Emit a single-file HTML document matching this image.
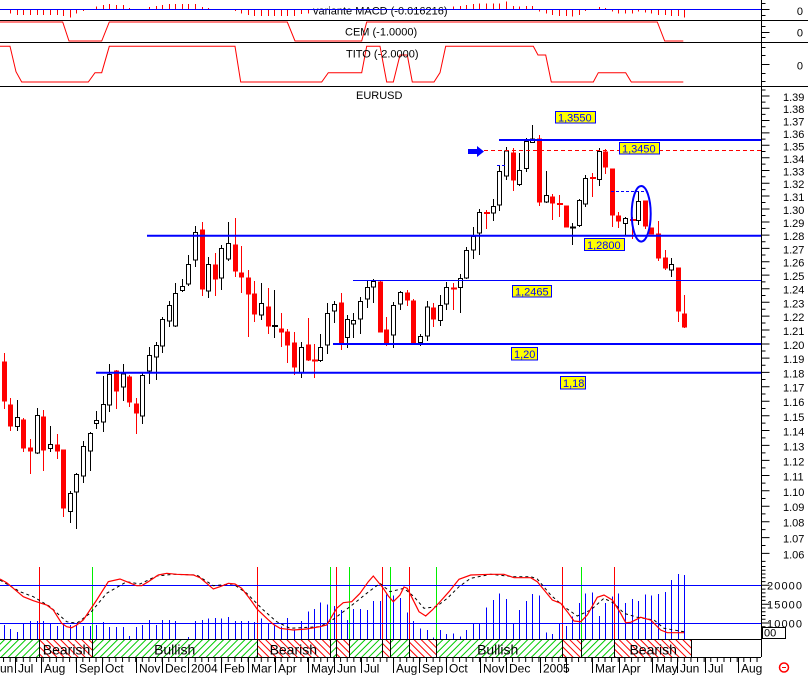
<!DOCTYPE html>
<html><head><meta charset="utf-8"><style>
html,body{margin:0;padding:0;background:#fff;}
svg{display:block;font-family:"Liberation Sans",Arial,sans-serif;}
</style></head><body>
<svg width="808" height="675" viewBox="0 0 808 675" xmlns="http://www.w3.org/2000/svg">
<defs>
<pattern id="hg" width="5" height="10" patternUnits="userSpaceOnUse" patternTransform="rotate(45)"><rect x="0" y="0" width="1" height="10" fill="#00cc00"/></pattern>
<pattern id="hr" width="5" height="10" patternUnits="userSpaceOnUse" patternTransform="rotate(-45)"><rect x="0" y="0" width="1" height="10" fill="#ff0000"/></pattern>
<pattern id="wt" x="3" y="0" width="6.61" height="10" patternUnits="userSpaceOnUse"><rect x="0" y="0" width="1" height="10" fill="#000"/></pattern>
</defs>
<rect width="808" height="675" fill="#fff"/>

<!-- MACD histogram -->
<path stroke="#f00" fill="none" d="M10.5,9.5V13.5M17.5,9.5V15M23.5,9.5V15M30.5,9.5V15M37.5,9.5V15M43.5,9.5V15M50.5,9.5V15M57.5,9.5V15M63.5,9.5V16M70.5,9.5V17.5M76.5,9.5V13.5M83.5,9.5V11M96.5,9.5V6.5M103.5,9.5V5M109.5,9.5V4M116.5,9.5V5M123.5,9.5V5M129.5,9.5V8M149.5,9.5V7M156.5,9.5V6M162.5,9.5V5M169.5,9.5V4M175.5,9.5V4M182.5,9.5V4M188.5,9.5V4M195.5,9.5V4M202.5,9.5V7M208.5,9.5V8M235.5,9.5V11M241.5,9.5V13.5M248.5,9.5V15M254.5,9.5V16M261.5,9.5V16M268.5,9.5V16M274.5,9.5V16M281.5,9.5V16M287.5,9.5V16M294.5,9.5V16M301.5,9.5V14M308.5,9.5V13.5M453.5,9.5V6.5M460.5,9.5V6M466.5,9.5V5M473.5,9.5V4M479.5,9.5V3.5M486.5,9.5V3.5M493.5,9.5V3.5M499.5,9.5V3.5M506.5,9.5V1.5M513.5,9.5V6M519.5,9.5V6.5M526.5,9.5V6M532.5,9.5V6M539.5,9.5V11.5M546.5,9.5V13.5M552.5,9.5V15M559.5,9.5V16M566.5,9.5V16M572.5,9.5V16.5M579.5,9.5V15M585.5,9.5V11M599.5,9.5V7M605.5,9.5V8M612.5,9.5V11.5M618.5,9.5V13.5M625.5,9.5V13.5M632.5,9.5V13.5M638.5,9.5V11.5M645.5,9.5V12.5M651.5,9.5V13.5M658.5,9.5V15M665.5,9.5V15M671.5,9.5V16M678.5,9.5V16M684.5,9.5V17.5"/>
<rect x="312" y="3" width="137" height="13" fill="#fff"/>
<text x="313" y="14.5" font-size="11" fill="#000">variante MACD (-0.016216)</text>
<path d="M0,9.5H761" stroke="#00f"/>

<!-- CEM / TITO -->
<polyline fill="none" stroke="#f00" points="0,22 62.7,22 69,41 101.7,41 109.3,22 287.3,22 295,41 361.7,41 366.7,22 657.3,22 664.7,41 683.3,41"/>
<text x="345" y="35.7" font-size="11" fill="#000">CEM (-1.0000)</text>
<polyline fill="none" stroke="#f00" points="0,46.3 10,46.3 16,71.7 21.7,82 88.3,82 95,72.7 101.7,72.7 109.3,46.3 235,46.3 240.7,82 321.7,82 328.3,72.7 361.7,72.7 366.7,46.3 380,46.3 386.7,82 393.3,82 400,55 407.3,55 412.3,82 434,82 440,72.7 445.7,46.3 533.3,46.3 538,55 545.7,55 551.3,82 593.3,82 598.3,72.7 625.7,72.7 631.3,82 683.3,82"/>
<text x="346" y="57.3" font-size="11" fill="#000">TITO (-2.0000)</text>

<path d="M0,20.5H808M0,42.5H808M0,86.5H808" stroke="#000"/>
<path d="M761.5,0V657" stroke="#000"/>
<path stroke="#000" d="M761.5,3.5H765.5M761.5,9.5H769.5M761.5,15.5H765.5M761.5,26.5H765.5M761.5,32.5H769.5M761.5,37.5H765.5M761.5,47.5H765.5M761.5,55.5H765.5M761.5,64.5H769.5M761.5,73.5H765.5M761.5,81.5H765.5"/>
<text x="803" y="15" font-size="11" text-anchor="end">0</text>
<text x="803" y="36.7" font-size="11" text-anchor="end">0</text>
<text x="803" y="69.7" font-size="11" text-anchor="end">0</text>

<text x="356" y="99" font-size="11" fill="#000">EURUSD</text>

<!-- White candles -->
<g stroke="#000" fill="#fff">
<path d="M17.5,400V431"/><rect x="15.5" y="417.5" width="4" height="9"/>
<path d="M37.5,408V454"/><rect x="35.5" y="415.5" width="4" height="37.5"/>
<path d="M50.5,426V452"/><rect x="48.5" y="444.5" width="4" height="4"/>
<path d="M70.5,491V523"/><rect x="68.5" y="493.5" width="4" height="18"/>
<path d="M76.5,473V529"/><rect x="74.5" y="474.5" width="4" height="17.5"/>
<path d="M83.5,441V483"/><rect x="81.5" y="446.5" width="4" height="29.5"/>
<path d="M90.5,432V471"/><rect x="88.5" y="433.5" width="4" height="17.5"/>
<path d="M96.5,411V429"/><rect x="94.5" y="420.5" width="4" height="3"/>
<path d="M103.5,376V432"/><rect x="101.5" y="404.5" width="4" height="17.5"/>
<path d="M109.5,364V412"/><rect x="107.5" y="374.5" width="4" height="30.5"/>
<path d="M123.5,364V401"/><rect x="121.5" y="374" width="4" height="13"/>
<path d="M142.5,373V424"/><rect x="140.5" y="375.5" width="4" height="40.5"/>
<path d="M149.5,347V384"/><rect x="147.5" y="355.5" width="4" height="15.5"/>
<path d="M156.5,342V380"/><rect x="154.5" y="345.5" width="4" height="11.5"/>
<path d="M162.5,317V353"/><rect x="160.5" y="319.5" width="4" height="26.5"/>
<path d="M169.5,301V327"/><rect x="167.5" y="305.5" width="4" height="15.5"/>
<path d="M175.5,283V327"/><rect x="173.5" y="293.5" width="4" height="32.5"/>
<path d="M182.5,279V292"/><rect x="180.5" y="286.5" width="4" height="4"/>
<path d="M188.5,255V286"/><rect x="186.5" y="264.5" width="4" height="19.5"/>
<path d="M195.5,226V267"/><rect x="193.5" y="232.5" width="4" height="27.5"/>
<path d="M208.5,257V298"/><rect x="206.5" y="264.5" width="4" height="26.5"/>
<path d="M221.5,245V290"/><rect x="219.5" y="248.5" width="4" height="29.5"/>
<path d="M228.5,222V261"/><rect x="226.5" y="243.5" width="4" height="15.5"/>
<path d="M261.5,283V320"/><rect x="259.5" y="303.5" width="4" height="11.5"/>
<path d="M301.5,342V378"/><rect x="299.5" y="347.5" width="4" height="25.5"/>
<path d="M320.5,334V362"/><rect x="318.5" y="347.5" width="4" height="13"/>
<path d="M327.5,303V354"/><rect x="325.5" y="313.5" width="4" height="31.5"/>
<path d="M334.5,301V323"/><rect x="332.5" y="304.5" width="4" height="6.5"/>
<path d="M347.5,315V348"/><rect x="345.5" y="319.5" width="4" height="18"/>
<path d="M353.5,313V338"/><rect x="351.5" y="320.5" width="4" height="3.5"/>
<path d="M360.5,297V334"/><rect x="358.5" y="301.5" width="4" height="17.5"/>
<path d="M367.5,281V308"/><rect x="365.5" y="287.5" width="4" height="11.5"/>
<path d="M373.5,279V303"/><rect x="371.5" y="281.5" width="4" height="5.5"/>
<path d="M393.5,302V348"/><rect x="391.5" y="305.5" width="4" height="29.5"/>
<path d="M400.5,291V310"/><rect x="398.5" y="292.5" width="4" height="11.5"/>
<path d="M420.5,334V346"/><rect x="418.5" y="336.5" width="4" height="6"/>
<path d="M427.5,301V341"/><rect x="425.5" y="307" width="4" height="29"/>
<path d="M440.5,295V326"/><rect x="438.5" y="305.5" width="4" height="15"/>
<path d="M446.5,282V310"/><rect x="444.5" y="287.5" width="4" height="16.5"/>
<path d="M460.5,274V313"/><rect x="458.5" y="278.5" width="4" height="9"/>
<path d="M466.5,247V279"/><rect x="464.5" y="250.5" width="4" height="27.5"/>
<path d="M473.5,227V259"/><rect x="471.5" y="236.5" width="4" height="13.5"/>
<path d="M479.5,209V255"/><rect x="477.5" y="212.5" width="4" height="20.5"/>
<path d="M493.5,199V221"/><rect x="491.5" y="206.5" width="4" height="6.5"/>
<path d="M499.5,165V211"/><rect x="497.5" y="171.5" width="4" height="33.5"/>
<path d="M506.5,147V180"/><rect x="504.5" y="151" width="4" height="25"/>
<path d="M519.5,153V186"/><rect x="517.5" y="170.5" width="4" height="14"/>
<path d="M526.5,138V172"/><rect x="524.5" y="141.5" width="4" height="27"/>
<path d="M532.5,125V143"/><rect x="530.5" y="139" width="4" height="3.5"/>
<path d="M546.5,171V203"/><rect x="544.5" y="195.5" width="4" height="6.5"/>
<path d="M579.5,199V227"/><rect x="577.5" y="200.5" width="4" height="25"/>
<path d="M585.5,175V207"/><rect x="583.5" y="178.5" width="4" height="25.5"/>
<path d="M599.5,148V186"/><rect x="597.5" y="151.5" width="4" height="28"/>
<path d="M625.5,217V235"/><rect x="623.5" y="218.5" width="4" height="5"/>
<path d="M638.5,192V225"/><rect x="636.5" y="201.5" width="4" height="19"/>
<path d="M671.5,258V277"/><rect x="669.5" y="264.5" width="4" height="5.5"/>
</g>
<!-- black crosses -->
<path stroke="#000" fill="none" d="M274.5,290V338M572.5,223V245"/>
<path stroke="#000" stroke-width="2" fill="none" d="M272,326H278M570,227.5H576"/>

<!-- Red candles -->
<g stroke="#f00" fill="#f00">
<path d="M4.5,353V409"/><rect x="2.5" y="362" width="4" height="39"/>
<path d="M10.5,398V431"/><rect x="8.5" y="405" width="4" height="21"/>
<path d="M23.5,418V452"/><rect x="21.5" y="420" width="4" height="28"/>
<path d="M30.5,439V474"/><rect x="28.5" y="448" width="4" height="3"/>
<path d="M43.5,410V471"/><rect x="41.5" y="417" width="4" height="33"/>
<path d="M57.5,434V459"/><rect x="55.5" y="445" width="4" height="6"/>
<path d="M63.5,450V517"/><rect x="61.5" y="450" width="4" height="58"/>
<path d="M116.5,370V409"/><rect x="114.5" y="371" width="4" height="20"/>
<path d="M129.5,375V407"/><rect x="127.5" y="377" width="4" height="25"/>
<path d="M136.5,398V434"/><rect x="134.5" y="404" width="4" height="9"/>
<path d="M202.5,222V296"/><rect x="200.5" y="230" width="4" height="59"/>
<path d="M215.5,253V296"/><rect x="213.5" y="265" width="4" height="14"/>
<path d="M235.5,218V277"/><rect x="233.5" y="245" width="4" height="26"/>
<path d="M241.5,246V293"/><rect x="239.5" y="273" width="4" height="4"/>
<path d="M248.5,270V337"/><rect x="246.5" y="278" width="4" height="16"/>
<path d="M254.5,281V322"/><rect x="252.5" y="294" width="4" height="20"/>
<path d="M268.5,288V334"/><rect x="266.5" y="307" width="4" height="19"/>
<path d="M281.5,313V347"/><rect x="279.5" y="329" width="4" height="3"/>
<path d="M287.5,329V363"/><rect x="285.5" y="332" width="4" height="13"/>
<path d="M294.5,332V375"/><rect x="292.5" y="343" width="4" height="24"/>
<path d="M308.5,318V361"/><rect x="306.5" y="345" width="4" height="15"/>
<path d="M341.5,293V350"/><rect x="339.5" y="303" width="4" height="41"/>
<path d="M380.5,281V332"/><rect x="378.5" y="282" width="4" height="50"/>
<path d="M386.5,317V346"/><rect x="384.5" y="330" width="4" height="13"/>
<path d="M407.5,290V306"/><rect x="405.5" y="293" width="4" height="7"/>
<path d="M413.5,299V344"/><rect x="411.5" y="301" width="4" height="42"/>
<path d="M433.5,303V327"/><rect x="431.5" y="308" width="4" height="11"/>
<path d="M513.5,148V191"/><rect x="511.5" y="153" width="4" height="27"/>
<path d="M539.5,135V206"/><rect x="537.5" y="139" width="4" height="63"/>
<path d="M552.5,194V220"/><rect x="550.5" y="197" width="4" height="6"/>
<path d="M566.5,206V227"/><rect x="564.5" y="206" width="4" height="21"/>
<path d="M605.5,149V174"/><rect x="603.5" y="152" width="4" height="15"/>
<path d="M612.5,169V227"/><rect x="610.5" y="169" width="4" height="46"/>
<path d="M618.5,212V228"/><rect x="616.5" y="216" width="4" height="5"/>
<path d="M645.5,201V229"/><rect x="643.5" y="201" width="4" height="25"/>
<path d="M651.5,228V234"/><rect x="649.5" y="228" width="4" height="6"/>
<path d="M658.5,221V261"/><rect x="656.5" y="234" width="4" height="24"/>
<path d="M665.5,250V270"/><rect x="663.5" y="258" width="4" height="10"/>
<path d="M678.5,268V322"/><rect x="676.5" y="268" width="4" height="43"/>
<path d="M684.5,295V328"/><rect x="682.5" y="314" width="4" height="13"/>
</g>
<!-- red crosses -->
<path stroke="#f00" fill="none" d="M314.5,344V378M453.5,283V310M486.5,210V229M559.5,195V217M592.5,173V197M632.5,217V239"/>
<path stroke="#f00" stroke-width="2" fill="none" d="M312,360.5H318M451,288.5H457M484,213H490M557,204H563M590,178H596M630,220H636"/>

<!-- Level lines -->
<path stroke="#00f" stroke-width="2" fill="none" d="M499,140H761M147,235.7H761M333,344H761M96,372.8H761"/>
<path stroke="#00f" stroke-width="1" fill="none" d="M353,280.5H761"/>
<path stroke="#f00" stroke-width="1" fill="none" stroke-dasharray="4,3" d="M484,150.5H761"/>
<path stroke="#00f" stroke-width="1" fill="none" stroke-dasharray="3,2" d="M611,191.5H646M497,165.5H506"/>
<path fill="#00f" d="M468,149H477V146L484,151.5L477,157V154H468Z"/>
<ellipse cx="641.2" cy="213.8" rx="9.5" ry="27.8" fill="none" stroke="#00f" stroke-width="2"/>

<!-- Level labels -->
<g font-size="11" fill="#00f">
<rect x="555.5" y="111.5" width="40" height="11.5" fill="#ff0" stroke="#00f"/><text x="558" y="121.3">1,3550</text>
<rect x="619.5" y="142.5" width="40" height="11.5" fill="#ff0" stroke="#00f"/><text x="622" y="152.3">1,3450</text>
<rect x="584.5" y="238.5" width="40" height="12" fill="#ff0" stroke="#00f"/><text x="587" y="248.8">1,2800</text>
<rect x="512.5" y="285.5" width="39" height="11.5" fill="#ff0" stroke="#00f"/><text x="515" y="295.3">1,2465</text>
<rect x="511.5" y="347.5" width="26" height="12.5" fill="#ff0" stroke="#00f"/><text x="514" y="358">1,20</text>
<rect x="560.5" y="376.5" width="25" height="12.5" fill="#ff0" stroke="#00f"/><text x="563" y="387">1,18</text>
</g>

<!-- Main right axis ticks -->
<path stroke="#000" fill="none" d="M761.5,90H765.5M761.5,96H769.5M761.5,102.1H765.5M761.5,108.2H769.5M761.5,114.4H765.5M761.5,120.5H769.5M761.5,126.7H765.5M761.5,132.9H769.5M761.5,139.1H765.5M761.5,145.3H769.5M761.5,151.5H765.5M761.5,157.8H769.5M761.5,164.1H765.5M761.5,170.5H769.5M761.5,176.8H765.5M761.5,183.2H769.5M761.5,189.6H765.5M761.5,196H769.5M761.5,202.5H765.5M761.5,209H769.5M761.5,215.5H765.5M761.5,222H769.5M761.5,228.5H765.5M761.5,235.1H769.5M761.5,241.7H765.5M761.5,248.4H769.5M761.5,255H765.5M761.5,261.7H769.5M761.5,268.4H765.5M761.5,275.1H769.5M761.5,281.9H765.5M761.5,288.7H769.5M761.5,295.5H765.5M761.5,302.3H769.5M761.5,309.2H765.5M761.5,316.1H769.5M761.5,323H765.5M761.5,330H769.5M761.5,337H765.5M761.5,344H769.5M761.5,351H765.5M761.5,358.1H769.5M761.5,365.2H765.5M761.5,372.4H769.5M761.5,379.5H765.5M761.5,386.7H769.5M761.5,394H765.5M761.5,401.2H769.5M761.5,408.5H765.5M761.5,415.8H769.5M761.5,423.1H765.5M761.5,430.5H769.5M761.5,437.9H765.5M761.5,445.4H769.5M761.5,452.9H765.5M761.5,460.4H769.5M761.5,467.9H765.5M761.5,475.5H769.5M761.5,483.1H765.5M761.5,490.8H769.5M761.5,498.5H765.5M761.5,506.2H769.5M761.5,513.9H765.5M761.5,521.7H769.5M761.5,529.6H765.5M761.5,537.6H769.5M761.5,545.5H765.5M761.5,553.4H769.5M761.5,561.4H765.5"/>
<g font-size="11" fill="#000">
<text x="783" y="101">1.39</text><text x="783" y="113.2">1.38</text><text x="783" y="125.5">1.37</text><text x="783" y="137.9">1.36</text><text x="783" y="150.3">1.35</text><text x="783" y="162.8">1.34</text><text x="783" y="175.5">1.33</text><text x="783" y="188.2">1.32</text><text x="783" y="201">1.31</text><text x="783" y="214">1.30</text><text x="783" y="227">1.29</text><text x="783" y="240.1">1.28</text><text x="783" y="253.4">1.27</text><text x="783" y="266.7">1.26</text><text x="783" y="280.1">1.25</text><text x="783" y="293.7">1.24</text><text x="783" y="307.3">1.23</text><text x="783" y="321.1">1.22</text><text x="783" y="335">1.21</text><text x="783" y="349">1.20</text><text x="783" y="363.1">1.19</text><text x="783" y="377.4">1.18</text><text x="783" y="391.7">1.17</text><text x="783" y="406.2">1.16</text><text x="783" y="420.8">1.15</text><text x="783" y="435.5">1.14</text><text x="783" y="450.4">1.13</text><text x="783" y="465.4">1.12</text><text x="783" y="480.5">1.11</text><text x="783" y="495.8">1.10</text><text x="783" y="511.2">1.09</text><text x="783" y="526.7">1.08</text><text x="783" y="542.6">1.07</text><text x="783" y="558.4">1.06</text>
</g>

<!-- Bottom indicator panel -->
<path stroke="#00f" fill="none" d="M4.5,639V625M10.5,639V629M17.5,639V632M23.5,639V623.5M30.5,639V621M37.5,639V621M43.5,639V621M50.5,639V623.5M57.5,639V626M63.5,639V623.5M70.5,639V625M76.5,639V625M83.5,639V626M90.5,639V626M96.5,639V625M103.5,639V622M109.5,639V627M116.5,639V627M123.5,639V627M129.5,639V636M136.5,639V627M142.5,639V625M149.5,639V620M156.5,639V625M162.5,639V620M169.5,639V620M175.5,639V621M188.5,639V637M195.5,639V621M202.5,639V620M208.5,639V618.5M215.5,639V618M221.5,639V618.5M228.5,639V617M235.5,639V621M241.5,639V621M248.5,639V621M254.5,639V622M261.5,639V618.5M268.5,639V623.5M274.5,639V625M281.5,639V626.5M287.5,639V618M294.5,639V630M301.5,639V621M308.5,639V611.5M314.5,639V609M320.5,639V602.5M327.5,639V604.5M334.5,639V606M341.5,639V610M347.5,639V620M353.5,639V609M360.5,639V609M367.5,639V610M373.5,639V601M380.5,639V601M386.5,639V594.5M393.5,639V595.5M400.5,639V598M407.5,639V612.5M413.5,639V621M420.5,639V628.5M427.5,639V630M433.5,639V637.5M440.5,639V630M446.5,639V634M453.5,639V633.5M460.5,639V636.5M466.5,639V630M473.5,639V623.5M479.5,639V623.5M486.5,639V607.5M493.5,639V600M499.5,639V593.5M506.5,639V599M513.5,639V623.5M519.5,639V610M526.5,639V601M532.5,639V594M539.5,639V595.5M546.5,639V632.5M552.5,639V634M559.5,639V623.5M566.5,639V626M572.5,639V616.5M579.5,639V603M585.5,639V593.5M592.5,639V592.5M599.5,639V616M605.5,639V603M612.5,639V596.5M618.5,639V593.5M625.5,639V603M632.5,639V599M638.5,639V601M645.5,639V594.5M651.5,639V595.5M658.5,639V594M665.5,639V592M671.5,639V580M678.5,639V574M684.5,639V575"/>
<path stroke="#f00" fill="none" d="M39.5,567V639M257.5,567V639M336.5,567V639M382.5,567V639M409.5,567V639M562.5,567V639M614.5,567V639"/>
<path stroke="#00ee00" fill="none" d="M92.5,567V639M330.5,567V639M349.5,567V639M390.5,567V639M436.5,567V639M581.5,567V639"/>
<path stroke="#00f" fill="none" d="M0,585.5H761M0,623.5H761"/>
<polyline fill="none" stroke="#000" stroke-dasharray="3,3" points="0,580 20,591.7 33.3,596.7 50,606.7 66.7,621.7 76.7,623.3 90,613.3 106.7,593.3 126.7,581.7 140,584 156.7,576 173.3,574.3 196.7,575 213.3,585.7 233.3,584 246.7,593.3 263.3,610 276.7,621.7 290,628.3 320,626.7 333.3,619.3 350,606.7 366.7,593.3 380,583.3 390,591.7 404,588.3 414,596.7 424,608.3 436.3,606.7 447.3,598.3 459,586.7 470.7,578.3 490.7,574.3 514,576.7 530.7,576.7 537.3,579 550.7,595 564,606.7 577.3,616 590.7,610 604,598.3 614,603.3 624,613.3 637.3,617.3 654,620 664,628.3 684,631.7"/>
<polyline fill="none" stroke="#f00" stroke-width="1.2" points="0,579 6.7,582.7 23.3,596.7 33.3,600.7 46.7,605 53.3,610 61.7,623.3 66.7,626.7 71.7,627.7 76.7,625 83.3,620 96.7,600 108.3,581.7 120,579 126.7,581.7 136.7,585.7 141.7,585.7 148.3,581.7 158.3,575 166.7,573.3 176.7,574.3 193.3,575 200,577.7 213.3,589 220,586.7 228.3,583.3 235,584 241.7,588.3 250,599 257.3,609.3 266.7,618.3 273.3,624.3 280,628.3 293.3,630 306.7,629 320,626.7 326.7,625 336.7,608.3 343.3,602.7 351.7,601.7 360,593.3 368.3,581.7 373.3,576 383.3,588.3 388.3,596 393.3,601.7 400,595 404,587 407.3,588.3 412.3,598.3 419,611.7 425.7,616 432.3,610 440.7,601 449,591.7 459,579.3 470.7,575 490.7,574.3 504,574.3 514,577.7 530.7,577.7 537.3,581.7 552.3,600 560.7,603.3 567.3,611.7 574,621 580.7,621.7 587.3,615 597.3,597.3 604,595 612.3,600 620.7,613.3 625.7,622.7 630.7,622.3 640.7,617.3 650.7,620 660.7,630 667.3,632.7 684,632.7"/>

<!-- Bottom right axis -->
<path stroke="#000" fill="none" d="M761.5,566.5H765.5M761.5,570.2H765.5M761.5,574H765.5M761.5,577.8H765.5M761.5,581.6H765.5M761.5,585.3H769.5M761.5,589.1H765.5M761.5,592.9H765.5M761.5,596.7H765.5M761.5,600.4H765.5M761.5,604.2H769.5M761.5,608H765.5M761.5,611.7H765.5M761.5,615.5H765.5M761.5,619.3H765.5M761.5,623H769.5M761.5,626.8H765.5M761.5,630.6H765.5M761.5,634.4H765.5"/>
<g font-size="11" fill="#000">
<text x="767" y="589.5" textLength="35" lengthAdjust="spacing">20000</text>
<text x="767" y="608.5" textLength="35" lengthAdjust="spacing">15000</text>
<text x="767" y="627.5" textLength="35" lengthAdjust="spacing">10000</text>
</g>
<rect x="762.5" y="627.5" width="23" height="11" fill="#fff" stroke="#000"/>
<text x="764" y="636.5" font-size="11">00</text>

<!-- Band -->
<rect x="0" y="639.5" width="39.5" height="18" fill="url(#hg)"/>
<rect x="39.5" y="639.5" width="53" height="18" fill="url(#hr)"/>
<rect x="92.5" y="639.5" width="165" height="18" fill="url(#hg)"/>
<rect x="257.5" y="639.5" width="73" height="18" fill="url(#hr)"/>
<rect x="330.5" y="639.5" width="6" height="18" fill="url(#hg)"/>
<rect x="336.5" y="639.5" width="13" height="18" fill="url(#hr)"/>
<rect x="349.5" y="639.5" width="33" height="18" fill="url(#hg)"/>
<rect x="382.5" y="639.5" width="8" height="18" fill="url(#hr)"/>
<rect x="390.5" y="639.5" width="19" height="18" fill="url(#hg)"/>
<rect x="409.5" y="639.5" width="27" height="18" fill="url(#hr)"/>
<rect x="436.5" y="639.5" width="126" height="18" fill="url(#hg)"/>
<rect x="562.5" y="639.5" width="19" height="18" fill="url(#hr)"/>
<rect x="581.5" y="639.5" width="33" height="18" fill="url(#hg)"/>
<rect x="614.5" y="639.5" width="77" height="18" fill="url(#hr)"/>
<path stroke="#000" fill="none" d="M0,639.5H761M0,657.5H761M39.5,639V657M92.5,639V657M257.5,639V657M330.5,639V657M336.5,639V657M349.5,639V657M382.5,639V657M390.5,639V657M409.5,639V657M436.5,639V657M562.5,639V657M581.5,639V657M614.5,639V657M691.5,639V657"/>
<g font-size="14" fill="#000" text-anchor="middle">
<text x="66.5" y="654.5">Bearish</text>
<text x="174.7" y="654.5">Bullish</text>
<text x="293.3" y="654.5">Bearish</text>
<text x="497.7" y="654.5">Bullish</text>
<text x="653.2" y="654.5">Bearish</text>
</g>

<!-- X axis -->
<rect x="0" y="657" width="761" height="5" fill="url(#wt)"/>
<path stroke="#000" fill="none" d="M15.5,657V673M41.5,657V673M76.5,657V673M102.5,657V673M136.5,657V673M162.5,657V673M188.5,657V673M221.5,657V673M248.5,657V673M275.5,657V673M308.5,657V673M334.5,657V673M361.5,657V673M393.5,657V673M419.5,657V673M446.5,657V673M480.5,657V673M506.5,657V673M540.5,657V673M566.5,657V673M592.5,657V673M619.5,657V673M652.5,657V673M677.5,657V673M705.5,657V673M738.5,657V673"/>
<g font-size="12" fill="#000">
<text x="-6" y="672.5">Jun</text><text x="18" y="672.5">Jul</text><text x="44" y="672.5">Aug</text><text x="79" y="672.5">Sep</text><text x="105" y="672.5">Oct</text><text x="139" y="672.5">Nov</text><text x="165" y="672.5">Dec</text><text x="191" y="672.5">2004</text><text x="224" y="672.5">Feb</text><text x="251" y="672.5">Mar</text><text x="278" y="672.5">Apr</text><text x="311" y="672.5">May</text><text x="337" y="672.5">Jun</text><text x="364" y="672.5">Jul</text><text x="396" y="672.5">Aug</text><text x="422" y="672.5">Sep</text><text x="449" y="672.5">Oct</text><text x="483" y="672.5">Nov</text><text x="509" y="672.5">Dec</text><text x="543" y="672.5">2005</text><text x="595" y="672.5">Mar</text><text x="622" y="672.5">Apr</text><text x="655" y="672.5">May</text><text x="680" y="672.5">Jun</text><text x="708" y="672.5">Jul</text><text x="741" y="672.5">Aug</text>
</g>
<circle cx="784" cy="667.5" r="4.5" fill="none" stroke="#f00" stroke-width="1.5"/>
<path d="M782,667.5H786" stroke="#f00"/>
</svg>
</body></html>
